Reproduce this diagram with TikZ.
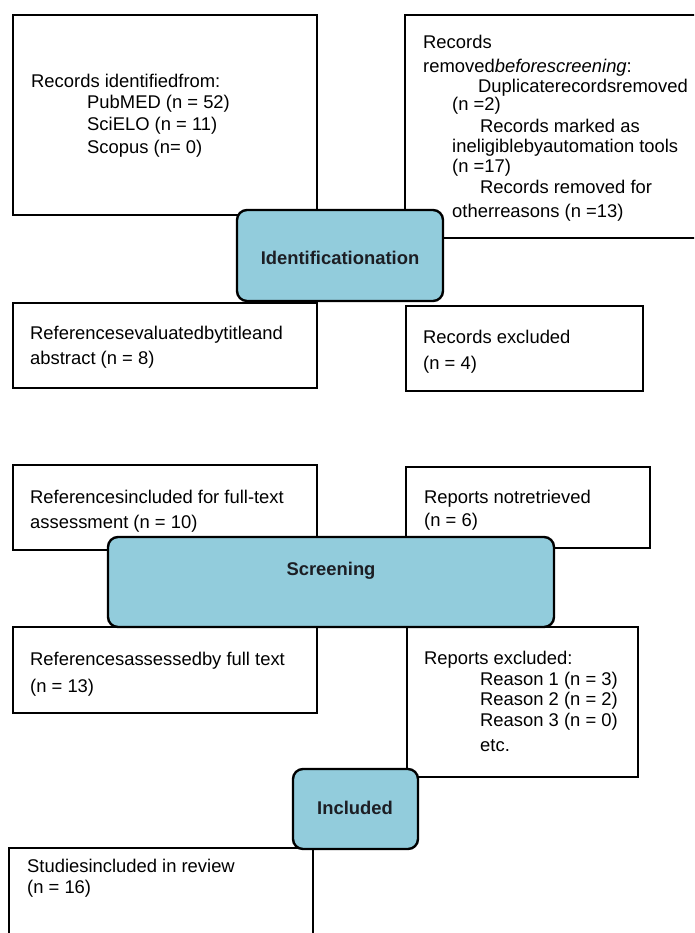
\documentclass[tikz,border=0pt]{standalone}
\usepackage{fontspec}
\setmainfont{Liberation Sans}
\usetikzlibrary{fit}
\definecolor{phasefill}{RGB}{146,204,220}
\definecolor{labeltext}{RGB}{28,30,36}
\begin{document}
\begin{tikzpicture}[x=1pt,y=-1pt,
  box/.style={draw=black, line width=2.4pt, fill=white, inner sep=0pt},
  phasebox/.style={draw=black, line width=2.4pt, fill=phasefill, rounded corners=10pt, inner sep=0pt},
  txt/.style={anchor=base west, inner sep=0pt, font=\fontsize{18.4}{22}\selectfont},
  phasetxt/.style={anchor=base, inner sep=0pt, font=\fontsize{18.4}{22}\selectfont\bfseries, text=labeltext}]
\useasboundingbox (0,0) rectangle (694,933);
\clip (0,0) rectangle (694,933);
% plain boxes
\node[box, fit={(13,15) (317,215)}] (b1) {};
\node[box, fit={(405,15) (712,238)}] (b2) {};
\node[box, fit={(13,303) (317,388)}] (b3) {};
\node[box, fit={(406,306) (643,391)}] (b4) {};
\node[box, fit={(13,465) (317,550)}] (b5) {};
\node[box, fit={(406,467) (650,548)}] (b6) {};
\node[box, fit={(13,627) (317,713)}] (b7) {};
\node[box, fit={(407,627) (638,777)}] (b8) {};
\node[box, fit={(9,848) (313,960)}] (b9) {};
% phase boxes
\node[phasebox, fit={(237,210) (443,301)}] (p1) {};
\node[phasebox, fit={(108,537) (554,627)}] (p2) {};
\node[phasebox, fit={(293,769) (418,849)}] (p3) {};
\node[phasetxt] (p1t) at (340,264.5) {Identificationation};
\node[phasetxt] (p2t) at (331,575) {Screening};
\node[phasetxt] (p3t) at (355,814) {Included};
% box 1
\node[txt] (t1a) at (31,88) {Records identifiedfrom:};
\node[txt] (t1b) at (87,109) {PubMED (n = 52)};
\node[txt] (t1c) at (87,131) {SciELO (n = 11)};
\node[txt] (t1d) at (87,154) {Scopus (n= 0)};
% box 2
\node[txt] (t2a) at (423,49) {Records};
\node[txt] (t2b) at (423,73) {removed\textit{beforescreening}:};
\node[txt] (t2c) at (478,93) {Duplicaterecordsremoved};
\node[txt] (t2d) at (452,111) {(n =2)};
\node[txt] (t2e) at (480,133) {Records marked as};
\node[txt] (t2f) at (452,153) {ineligiblebyautomation tools};
\node[txt] (t2g) at (452,173) {(n =17)};
\node[txt] (t2h) at (480,194) {Records removed for};
\node[txt] (t2i) at (452,218) {otherreasons (n =13)};
% box 3, 4
\node[txt] (t3a) at (30,339) {Referencesevaluatedbytitleand};
\node[txt] (t3b) at (30,364) {abstract (n = 8)};
\node[txt] (t4a) at (423,343) {Records excluded};
\node[txt] (t4b) at (423,369) {(n = 4)};
% box 5, 6
\node[txt] (t5a) at (30,503) {Referencesincluded for full-text};
\node[txt] (t5b) at (30,528) {assessment (n = 10)};
\node[txt] (t6a) at (424,503) {Reports notretrieved};
\node[txt] (t6b) at (424,526) {(n = 6)};
% box 7, 8
\node[txt] (t7a) at (30,665) {Referencesassessedby full text};
\node[txt] (t7b) at (30,692) {(n = 13)};
\node[txt] (t8a) at (424,664) {Reports excluded:};
\node[txt] (t8b) at (480,685) {Reason 1 (n = 3)};
\node[txt] (t8c) at (480,705) {Reason 2 (n = 2)};
\node[txt] (t8d) at (480,726) {Reason 3 (n = 0)};
\node[txt] (t8e) at (480,751) {etc.};
% box 9
\node[txt] (t9a) at (27,872) {Studiesincluded in review};
\node[txt] (t9b) at (27,893) {(n = 16)};
\end{tikzpicture}
\end{document}
